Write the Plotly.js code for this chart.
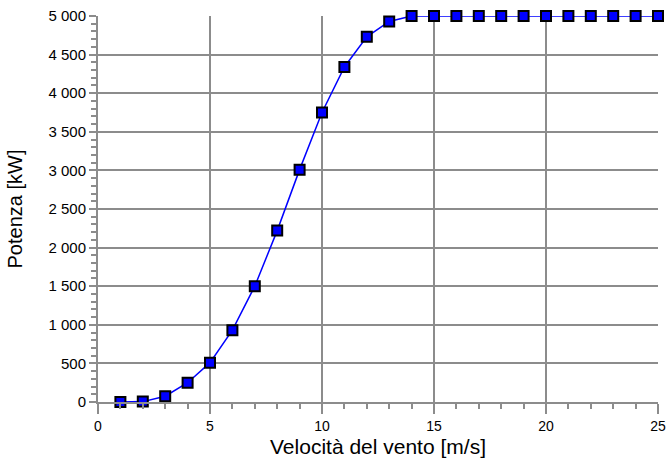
<!DOCTYPE html>
<html>
<head>
<meta charset="utf-8">
<script src="https://cdn.plot.ly/plotly-3.0.1.min.js"></script>
<style>html,body{margin:0;padding:0;background:#fff;}#chart{width:667px;height:459px;}</style>
</head>
<body>
<div id="chart"></div>
<script>
const windSpeed = [1,2,3,4,5,6,7,8,9,10,11,12,13,14,15,16,17,18,19,20,21,22,23,24,25];
const powerKW = [0,5,75,250,510,930,1500,2220,3010,3750,4340,4730,4930,5000,5000,5000,5000,5000,5000,5000,5000,5000,5000,5000,5000];
const xTitle = "Velocità del vento [m/s]";
const yTitle = "Potenza [kW]";

const gridColor = "#8c8c8c";
const fontFam = "Liberation Sans, Arial, sans-serif";

const trace = {
  x: windSpeed, y: powerKW, type: "scatter", mode: "lines+markers",
  line: {color: "#0000ff", width: 1.5},
  marker: {symbol: "square", size: 10, color: "#0000ff", line: {color: "#000000", width: 2}},
  cliponaxis: false, showlegend: false
};

const layout = {
  width: 667, height: 459,
  margin: {l: 98, r: 9, t: 16, b: 57},
  paper_bgcolor: "#ffffff", plot_bgcolor: "#ffffff",
  separators: ", ",
  font: {family: fontFam, size: 14, color: "#000"},
  xaxis: {
    range: [0, 25], dtick: 5, tick0: 0,
    showgrid: true, gridcolor: gridColor, gridwidth: 2,
    showline: true, linecolor: gridColor, linewidth: 2,
    ticks: "outside", ticklen: 10, tickwidth: 2, tickcolor: gridColor,
    minor: {dtick: 1, ticks: "outside", ticklen: 5, tickwidth: 2, tickcolor: gridColor, showgrid: false},
    zeroline: false,
    tickfont: {size: 14},
    title: {text: xTitle, font: {size: 21}, standoff: 7}
  },
  yaxis: {
    range: [0, 5000], dtick: 500, tick0: 0, tickformat: ",d",
    showgrid: true, gridcolor: gridColor, gridwidth: 2,
    showline: true, linecolor: gridColor, linewidth: 2,
    ticks: "outside", ticklen: 7, tickwidth: 2, tickcolor: gridColor,
    minor: {dtick: 100, ticks: "outside", ticklen: 5, tickwidth: 2, tickcolor: gridColor, showgrid: false},
    zeroline: false,
    tickfont: {size: 15},
    title: {text: yTitle, font: {size: 20}, standoff: 20}
  }
};

Plotly.newPlot("chart", [trace], layout, {displayModeBar: false, staticPlot: true});
</script>
</body>
</html>
